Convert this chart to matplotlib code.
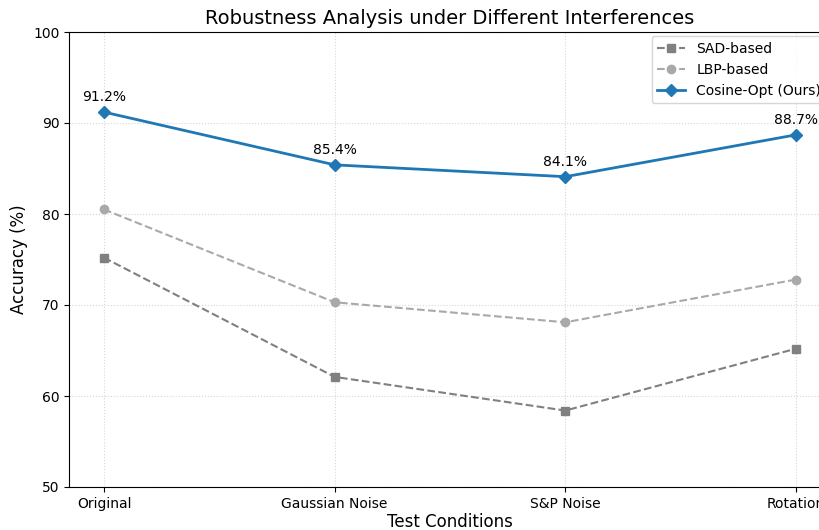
import matplotlib
matplotlib.use("Agg")
import matplotlib.pyplot as plt

conditions = ["Original", "Gaussian Noise", "S&P Noise", "Rotation"]
sad = [75.2, 62.1, 58.4, 65.2]
lbp = [80.5, 70.3, 68.1, 72.8]
cosine = [91.2, 85.4, 84.1, 88.7]

W, H = 819, 530
fig = plt.figure(figsize=(W / 100, H / 100), dpi=100)
# axes runs slightly past the right edge, as in the reference
left, right, top, bottom = 69.4, 830.6, 32, 487
ax = fig.add_axes([left / W, 1 - bottom / H, (right - left) / W, (bottom - top) / H])

x = range(len(conditions))
ax.plot(x, sad, color="gray", linestyle="--", marker="s", markersize=6,
        linewidth=1.5, label="SAD-based")
ax.plot(x, lbp, color="darkgray", linestyle="--", marker="o", markersize=6,
        linewidth=1.5, label="LBP-based")
ax.plot(x, cosine, color="#1f77b4", linestyle="-", marker="D", markersize=6,
        linewidth=2, label="Cosine-Opt (Ours)")

for i, v in enumerate(cosine):
    ax.annotate(f"{v}%", (i, v), textcoords="offset points", xytext=(0, 8),
                ha="center", fontsize=10)

ax.set_xticks(list(x))
ax.set_xticklabels(conditions)
ax.set_ylim(50, 100)
ax.set_title("Robustness Analysis under Different Interferences", fontsize=14)
ax.set_xlabel("Test Conditions", fontsize=12, labelpad=1.5)
ax.set_ylabel("Accuracy (%)", fontsize=12)
ax.grid(True, linestyle=":", alpha=0.5)
ax.legend(loc="upper right", borderaxespad=0.3)

fig.savefig("out.png", dpi=100)
